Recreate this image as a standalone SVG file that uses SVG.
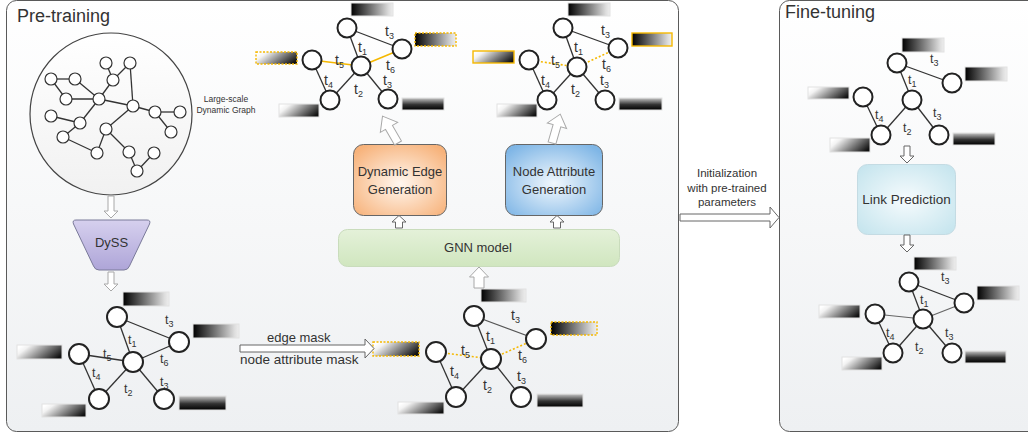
<svg xmlns="http://www.w3.org/2000/svg" width="1028" height="434" viewBox="0 0 1028 434">
<defs>
<linearGradient id="panel" x1="0" y1="0" x2="0" y2="1"><stop offset="0" stop-color="#ffffff"/><stop offset="1" stop-color="#eef0f2"/></linearGradient>
<linearGradient id="dk" x1="0" y1="0" x2="1" y2="0"><stop offset="0" stop-color="#000"/><stop offset="0.35" stop-color="#555"/><stop offset="0.9" stop-color="#ddd"/><stop offset="1" stop-color="#eee"/></linearGradient>
<linearGradient id="lt" x1="0" y1="0.3" x2="1" y2="0.7"><stop offset="0" stop-color="#fff"/><stop offset="0.15" stop-color="#f2f2f2"/><stop offset="0.6" stop-color="#7a7a7a"/><stop offset="1" stop-color="#111"/></linearGradient>
<linearGradient id="vt" x1="0" y1="0" x2="0" y2="1"><stop offset="0" stop-color="#c8c8c8"/><stop offset="0.55" stop-color="#333"/><stop offset="1" stop-color="#000"/></linearGradient>
<linearGradient id="dyss" x1="0" y1="0" x2="0" y2="1"><stop offset="0" stop-color="#d6d0ee"/><stop offset="1" stop-color="#aea5d8"/></linearGradient>
<linearGradient id="gnn" x1="0" y1="0" x2="0" y2="1"><stop offset="0" stop-color="#e4f1d9"/><stop offset="1" stop-color="#d0e6bf"/></linearGradient>
<radialGradient id="org" cx="0.5" cy="0.55" r="0.65"><stop offset="0" stop-color="#fff7ef"/><stop offset="1" stop-color="#f7b27a"/></radialGradient>
<radialGradient id="blu" cx="0.5" cy="0.55" r="0.65"><stop offset="0" stop-color="#f2f8fd"/><stop offset="1" stop-color="#7fb6e6"/></radialGradient>
<radialGradient id="lp" cx="0.5" cy="0.5" r="0.65"><stop offset="0" stop-color="#f6fbfd"/><stop offset="1" stop-color="#c6e5ee"/></radialGradient>
<linearGradient id="big" x1="0" y1="0" x2="0" y2="1"><stop offset="0" stop-color="#fff"/><stop offset="1" stop-color="#f1f1f1"/></linearGradient>
</defs>
<style>
.pn{fill:url(#panel);stroke:#5a5a5a;stroke-width:1}
.nd{fill:#fff;stroke:#222;stroke-width:2}
.sn{fill:#fff;stroke:#333;stroke-width:1.2}
.ed{stroke:#333;stroke-width:1.3;fill:none}
.eg{stroke:#666;stroke-width:1.2;fill:none}
.eo{stroke:#f5b800;stroke-width:1.6;fill:none}
.ez{stroke:#f5b800;stroke-width:1.6;stroke-dasharray:2 2;fill:none}
.rdk{fill:url(#dk);stroke:#e2e2e2;stroke-width:1}
.rlt{fill:url(#lt);stroke:#e2e2e2;stroke-width:1}
.rvt{fill:url(#vt);stroke:#e2e2e2;stroke-width:1}
.bo{stroke:#f5b800;stroke-width:1.4;stroke-dasharray:2 1.5}
.bs{stroke:#f5b800;stroke-width:1.4}
.tx{font-family:"Liberation Sans",Arial,sans-serif;fill:#333}
.t{font-family:"Liberation Sans",Arial,sans-serif;font-size:14px;fill:#333}
.t2{font-family:"Liberation Sans",Arial,sans-serif;font-size:12.5px;fill:#333}
.s{font-size:9px}
.arr{fill:#fff;stroke:#a8a8a8;stroke-width:1}
.arr2{fill:#fff;stroke:#666;stroke-width:1}
</style>

<g id="panel-pretraining">
<rect class="pn" x="6.5" y="0.5" width="672" height="431" rx="10"/>
<text class="tx" x="17" y="22" font-size="18" fill="#222">Pre-training</text>
</g>
<g id="panel-finetuning">
<rect class="pn" x="779.5" y="0.5" width="262" height="431" rx="10"/>
<text class="tx" x="785" y="18" font-size="18" fill="#222">Fine-tuning</text>
</g>

<g id="large-graph">
<circle cx="111" cy="114" r="81" fill="url(#big)" stroke="#444" stroke-width="1.2"/>
<g class="ed" stroke-width="1.1">
<line x1="106" y1="63" x2="113" y2="80"/><line x1="130" y1="63" x2="113" y2="80"/>
<line x1="130" y1="63" x2="133" y2="106"/><line x1="113" y1="80" x2="99" y2="99"/>
<line x1="51" y1="79" x2="75" y2="79"/><line x1="75" y1="79" x2="99" y2="99"/>
<line x1="51" y1="79" x2="66" y2="99"/><line x1="66" y1="99" x2="99" y2="99"/>
<line x1="99" y1="99" x2="133" y2="106"/><line x1="133" y1="106" x2="155" y2="112"/>
<line x1="155" y1="112" x2="180" y2="112"/><line x1="155" y1="112" x2="171" y2="132"/>
<line x1="133" y1="106" x2="106" y2="129"/><line x1="106" y1="129" x2="97" y2="153"/>
<line x1="106" y1="129" x2="129" y2="152"/><line x1="129" y1="152" x2="137" y2="171"/>
<line x1="137" y1="171" x2="154" y2="153"/><line x1="51" y1="116" x2="80" y2="123"/>
<line x1="80" y1="123" x2="99" y2="99"/><line x1="80" y1="123" x2="63" y2="137"/>
<line x1="63" y1="137" x2="97" y2="153"/>
</g>
<g class="sn">
<circle cx="106" cy="63" r="6"/><circle cx="130" cy="63" r="6"/><circle cx="51" cy="79" r="6"/>
<circle cx="75" cy="79" r="6"/><circle cx="113" cy="80" r="6"/><circle cx="66" cy="99" r="6"/>
<circle cx="99" cy="99" r="6"/><circle cx="133" cy="106" r="6"/><circle cx="155" cy="112" r="6"/>
<circle cx="180" cy="112" r="6"/><circle cx="51" cy="116" r="6"/><circle cx="80" cy="123" r="6"/>
<circle cx="106" cy="129" r="6"/><circle cx="171" cy="132" r="6"/><circle cx="63" cy="137" r="6"/>
<circle cx="97" cy="153" r="6"/><circle cx="129" cy="152" r="6"/><circle cx="154" cy="153" r="6"/>
<circle cx="137" cy="171" r="6"/>
</g>
<text class="tx" font-size="8.5" text-anchor="middle"><tspan x="226" y="102">Large-scale</tspan><tspan x="226" y="113">Dynamic Graph</tspan></text>
</g>

<g id="dyss">
<path d="M76,220 L147,220 Q151,220 149.5,224 L129.5,266 Q128,270 124,270 L99,270 Q95,270 93.5,266 L73.5,224 Q72,220 76,220 Z" fill="url(#dyss)" stroke="#7a7a9a" stroke-width="1"/>
<text class="tx" x="111.5" y="247" font-size="13" text-anchor="middle">DySS</text>
</g>

<g id="graph-top-left">
<g class="ed"><line x1="347" y1="28" x2="402" y2="49"/><line x1="347" y1="28" x2="361" y2="66"/><line x1="312" y1="60" x2="330" y2="100"/><line x1="330" y1="100" x2="361" y2="66"/><line x1="361" y1="66" x2="388" y2="99"/></g>
<g class="eo"><line x1="312" y1="60" x2="361" y2="66"/><line x1="361" y1="66" x2="402" y2="49"/></g>
<g class="nd"><circle cx="347" cy="28" r="9.5"/><circle cx="402" cy="49" r="9.5"/><circle cx="361" cy="66" r="9.5"/><circle cx="312" cy="60" r="9.5"/><circle cx="330" cy="100" r="9.5"/><circle cx="388" cy="99" r="9.5"/></g>
<text class="t" x="385" y="36">t<tspan class="s" dy="3">3</tspan></text>
<text class="t" x="358" y="52">t<tspan class="s" dy="3">1</tspan></text>
<text class="t" x="335" y="65">t<tspan class="s" dy="3">5</tspan></text>
<text class="t" x="386" y="70">t<tspan class="s" dy="3">6</tspan></text>
<text class="t" x="324" y="85">t<tspan class="s" dy="3">4</tspan></text>
<text class="t" x="354" y="94">t<tspan class="s" dy="3">2</tspan></text>
<text class="t" x="383" y="85">t<tspan class="s" dy="3">3</tspan></text>
<rect class="rdk" x="351" y="3" width="42" height="13"/>
<rect class="rdk bo" x="415" y="33" width="41" height="13"/>
<rect class="rlt bo" x="256" y="52" width="41" height="12"/>
<rect class="rlt" x="279" y="104" width="40" height="13"/>
<rect class="rvt" x="402" y="98" width="42" height="12"/>
</g>

<g id="graph-top-right">
<g class="ed"><line x1="563" y1="28" x2="618" y2="48"/><line x1="563" y1="28" x2="577" y2="67"/><line x1="529" y1="60" x2="547" y2="100"/><line x1="547" y1="100" x2="577" y2="67"/><line x1="577" y1="67" x2="605" y2="100"/></g>
<g class="ez"><line x1="529" y1="60" x2="577" y2="67"/><line x1="577" y1="67" x2="618" y2="48"/></g>
<g class="nd"><circle cx="563" cy="28" r="9.5"/><circle cx="618" cy="48" r="9.5"/><circle cx="577" cy="67" r="9.5"/><circle cx="529" cy="60" r="9.5"/><circle cx="547" cy="100" r="9.5"/><circle cx="605" cy="100" r="9.5"/></g>
<text class="t" x="601" y="35">t<tspan class="s" dy="3">3</tspan></text>
<text class="t" x="574" y="52">t<tspan class="s" dy="3">1</tspan></text>
<text class="t" x="551" y="65">t<tspan class="s" dy="3">5</tspan></text>
<text class="t" x="602" y="69">t<tspan class="s" dy="3">6</tspan></text>
<text class="t" x="541" y="85">t<tspan class="s" dy="3">4</tspan></text>
<text class="t" x="571" y="94">t<tspan class="s" dy="3">2</tspan></text>
<text class="t" x="600" y="85">t<tspan class="s" dy="3">3</tspan></text>
<rect class="rdk" x="568" y="3" width="42" height="13"/>
<rect class="rdk bs" x="632" y="33" width="40" height="13"/>
<rect class="rlt bs" x="473" y="51" width="41" height="12"/>
<rect class="rlt" x="497" y="104" width="40" height="13"/>
<rect class="rvt" x="619" y="98" width="43" height="12"/>
</g>

<g id="graph-bottom-left">
<g class="ed"><line x1="117" y1="317" x2="179" y2="342"/><line x1="117" y1="317" x2="133" y2="362"/><line x1="79" y1="354" x2="133" y2="362"/><line x1="133" y1="362" x2="179" y2="342"/><line x1="79" y1="354" x2="99" y2="399"/><line x1="99" y1="399" x2="133" y2="362"/><line x1="133" y1="362" x2="164" y2="399"/></g>
<g class="nd"><circle cx="117" cy="317" r="10"/><circle cx="179" cy="342" r="10"/><circle cx="133" cy="362" r="10"/><circle cx="79" cy="354" r="10"/><circle cx="99" cy="399" r="10"/><circle cx="164" cy="399" r="10"/></g>
<text class="t2" x="165" y="324">t<tspan class="s" dy="3">3</tspan></text>
<text class="t2" x="128" y="344">t<tspan class="s" dy="3">1</tspan></text>
<text class="t2" x="103" y="358">t<tspan class="s" dy="3">5</tspan></text>
<text class="t2" x="160" y="363">t<tspan class="s" dy="3">6</tspan></text>
<text class="t2" x="92" y="377">t<tspan class="s" dy="3">4</tspan></text>
<text class="t2" x="124" y="393">t<tspan class="s" dy="3">2</tspan></text>
<text class="t2" x="160" y="386">t<tspan class="s" dy="3">3</tspan></text>
<rect class="rdk" x="123" y="292" width="46" height="14"/>
<rect class="rdk" x="193" y="324" width="46" height="14"/>
<rect class="rlt" x="17" y="345" width="45" height="14"/>
<rect class="rlt" x="42" y="404" width="44" height="13"/>
<rect class="rvt" x="179" y="396" width="47" height="14"/>
</g>

<g id="mask-labels">
<text class="tx" x="267" y="342" font-size="13">edge mask</text>
<text class="tx" x="240" y="364" font-size="13.5">node attribute mask</text>
</g>

<g id="graph-bottom-middle">
<g class="ed"><line x1="474" y1="316" x2="536" y2="339" stroke="#555"/><line x1="474" y1="316" x2="491" y2="359"/><line x1="436" y1="352" x2="456" y2="397"/><line x1="456" y1="397" x2="491" y2="359"/><line x1="491" y1="359" x2="521" y2="397"/></g>
<g class="ez"><line x1="436" y1="352" x2="491" y2="359"/><line x1="491" y1="359" x2="536" y2="339"/></g>
<g class="nd"><circle cx="474" cy="316" r="10"/><circle cx="536" cy="339" r="10"/><circle cx="491" cy="359" r="10"/><circle cx="436" cy="352" r="10"/><circle cx="456" cy="397" r="10"/><circle cx="521" cy="397" r="10"/></g>
<text class="t" x="511" y="320">t<tspan class="s" dy="3">3</tspan></text>
<text class="t" x="486" y="341">t<tspan class="s" dy="3">1</tspan></text>
<text class="t" x="461" y="355">t<tspan class="s" dy="3">5</tspan></text>
<text class="t" x="518" y="360">t<tspan class="s" dy="3">6</tspan></text>
<text class="t" x="450" y="376">t<tspan class="s" dy="3">4</tspan></text>
<text class="t" x="483" y="390">t<tspan class="s" dy="3">2</tspan></text>
<text class="t" x="517" y="381">t<tspan class="s" dy="3">3</tspan></text>
<rect class="rdk" x="481" y="289" width="45" height="13"/>
<rect class="rdk bo" x="551" y="322" width="46" height="13"/>
<rect class="rlt bo" x="373" y="342" width="46" height="14"/>
<rect class="rlt" x="398" y="402" width="46" height="12"/>
<rect class="rvt" x="537" y="394" width="46" height="13"/>
</g>

<g id="gnn-model">
<rect x="338.5" y="229.5" width="281" height="37" rx="9" fill="url(#gnn)" stroke="#c9dcbc" stroke-width="1"/>
<text class="tx" x="478" y="252" font-size="13" text-anchor="middle">GNN model</text>
</g>
<g id="dynamic-edge-generation">
<rect x="353.5" y="144.5" width="93" height="71" rx="10" fill="url(#org)" stroke="#666" stroke-width="1"/>
<text class="tx" font-size="13" text-anchor="middle"><tspan x="400" y="176">Dynamic Edge</tspan><tspan x="400" y="194">Generation</tspan></text>
</g>
<g id="node-attribute-generation">
<rect x="505.5" y="144.5" width="97" height="71" rx="10" fill="url(#blu)" stroke="#666" stroke-width="1"/>
<text class="tx" font-size="13" text-anchor="middle"><tspan x="554" y="176">Node Attribute</tspan><tspan x="554" y="194">Generation</tspan></text>
</g>

<g id="init-label">
<text class="tx" font-size="11.5" text-anchor="middle"><tspan x="727" y="177">Initialization</tspan><tspan x="727" y="192">with pre-trained</tspan><tspan x="727" y="206">parameters</tspan></text>
</g>

<g id="graph-finetune-top">
<g class="ed"><line x1="897" y1="63" x2="952" y2="83"/><line x1="897" y1="63" x2="912" y2="100"/><line x1="863" y1="97" x2="881" y2="135"/><line x1="881" y1="135" x2="912" y2="100"/><line x1="912" y1="100" x2="939" y2="135"/></g>
<g class="nd"><circle cx="897" cy="63" r="9.5"/><circle cx="952" cy="83" r="9.5"/><circle cx="912" cy="100" r="9.5"/><circle cx="863" cy="97" r="9.5"/><circle cx="881" cy="135" r="9.5"/><circle cx="939" cy="135" r="9.5"/></g>
<text class="t2" x="930" y="63">t<tspan class="s" dy="3">3</tspan></text>
<text class="t2" x="908" y="84">t<tspan class="s" dy="3">1</tspan></text>
<text class="t2" x="875" y="119">t<tspan class="s" dy="3">4</tspan></text>
<text class="t2" x="933" y="117">t<tspan class="s" dy="3">3</tspan></text>
<text class="t2" x="903" y="132">t<tspan class="s" dy="3">2</tspan></text>
<rect class="rdk" x="902" y="38" width="42" height="14"/>
<rect class="rdk" x="965" y="67" width="42" height="14"/>
<rect class="rlt" x="808" y="87" width="41" height="12"/>
<rect class="rlt" x="830" y="138" width="40" height="14"/>
<rect class="rvt" x="953" y="133" width="42" height="12"/>
</g>

<g id="link-prediction">
<rect x="857.5" y="164.5" width="98" height="70" rx="10" fill="url(#lp)" stroke="#c4dbe3" stroke-width="1"/>
<text class="tx" x="906.5" y="204" font-size="13.5" text-anchor="middle">Link Prediction</text>
</g>

<g id="graph-finetune-bottom">
<g class="ed"><line x1="909" y1="282" x2="964" y2="303"/><line x1="909" y1="282" x2="923" y2="319"/><line x1="875" y1="314" x2="893" y2="353"/><line x1="893" y1="353" x2="923" y2="319"/><line x1="923" y1="319" x2="952" y2="353"/></g>
<g class="eg"><line x1="875" y1="314" x2="923" y2="319"/><line x1="923" y1="319" x2="964" y2="303"/></g>
<g class="nd"><circle cx="909" cy="282" r="9.5"/><circle cx="964" cy="303" r="9.5"/><circle cx="923" cy="319" r="9.5"/><circle cx="875" cy="314" r="9.5"/><circle cx="893" cy="353" r="9.5"/><circle cx="952" cy="353" r="9.5"/></g>
<text class="t2" x="941" y="281">t<tspan class="s" dy="3">3</tspan></text>
<text class="t2" x="920" y="304">t<tspan class="s" dy="3">1</tspan></text>
<text class="t2" x="886" y="337">t<tspan class="s" dy="3">4</tspan></text>
<text class="t2" x="945" y="337">t<tspan class="s" dy="3">3</tspan></text>
<text class="t2" x="915" y="351">t<tspan class="s" dy="3">2</tspan></text>
<rect class="rdk" x="914" y="257" width="42" height="13"/>
<rect class="rdk" x="977" y="286" width="42" height="14"/>
<rect class="rlt" x="819" y="305" width="41" height="13"/>
<rect class="rlt" x="842" y="357" width="40" height="13"/>
<rect class="rvt" x="965" y="351" width="41" height="12"/>
</g>

<g id="connectors">
<path class="arr" d="M108,196 L114,196 L114,211 L118,211 L111,218 L104,211 L108,211 Z"/>
<path class="arr" d="M108,272 L114,272 L114,284 L118,284 L111,291 L104,284 L108,284 Z"/>
<path class="arr2" d="M240,345 L365,345 L365,339 L374,348.5 L365,358 L365,352 L240,352 Z"/>
<path class="arr" d="M474,288 L474,277 L469.5,277 L479,267 L488.5,277 L484,277 L484,288 Z"/>
<path class="arr2" d="M395.5,228 L395.5,222 L392,222 L399,215.5 L406,222 L402.5,222 L402.5,228 Z"/>
<path class="arr2" d="M553.5,228 L553.5,222 L550,222 L557,215.5 L564,222 L560.5,222 L560.5,228 Z"/>
<path class="arr" transform="translate(398,143) rotate(-30)" d="M-4,0 L-4,-18 L-10,-18 L0,-31 L10,-18 L4,-18 L4,0 Z"/>
<path class="arr" transform="translate(552,143) rotate(16)" d="M-4,0 L-4,-18 L-10,-18 L0,-30 L10,-18 L4,-18 L4,0 Z"/>
<path class="arr2" d="M680,214 L770,214 L770,207 L779,217.5 L770,228 L770,221 L680,221 Z"/>
<path class="arr2" d="M904,146 L910,146 L910,156 L914,156 L907,163 L900,156 L904,156 Z"/>
<path class="arr2" d="M904,235 L910,235 L910,245 L914,245 L907,252 L900,245 L904,245 Z"/>
</g>
</svg>
